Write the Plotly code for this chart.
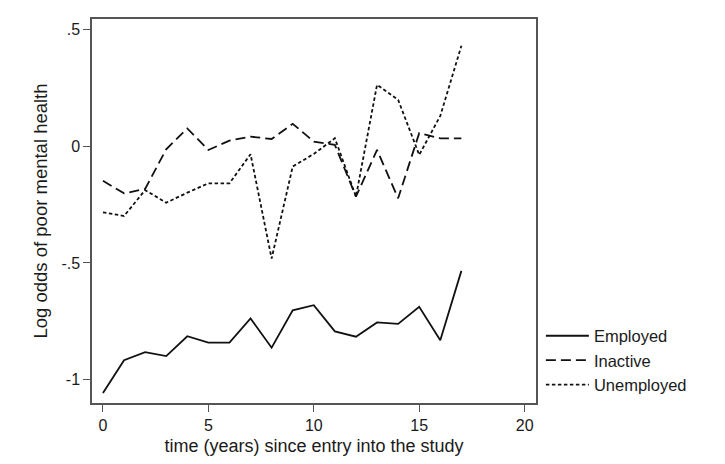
import plotly.graph_objects as go

time = list(range(18))
employed = [-1.057, -0.917, -0.882, -0.899, -0.814, -0.841, -0.841, -0.738, -0.863,
            -0.703, -0.681, -0.793, -0.816, -0.755, -0.761, -0.688, -0.831, -0.534]
inactive = [-0.148, -0.202, -0.183, -0.013, 0.076, -0.016, 0.024, 0.041, 0.031,
            0.096, 0.020, 0.006, -0.216, -0.016, -0.223, 0.056, 0.034, 0.034]
unemployed = [-0.283, -0.299, -0.188, -0.242, -0.199, -0.159, -0.159, -0.034, -0.481,
              -0.087, -0.033, 0.034, -0.216, 0.263, 0.199, -0.037, 0.130, 0.430]

series_names = ["Employed", "Inactive", "Unemployed"]
x_ticks = [0, 5, 10, 15, 20]
y_tickvals = [0.5, 0, -0.5, -1]
y_ticktext = [".5", "0", "-.5", "-1"]

FONT = "Liberation Sans, Arial, sans-serif"
INK = "#1a1a1a"
AXIS = "#555555"

fig = go.Figure()
styles = ["solid", "10px,5px", "3.5px,2.5px"]
for name, vals, dash in zip(series_names, [employed, inactive, unemployed], styles):
    fig.add_trace(go.Scatter(x=time, y=vals, mode="lines", name=name,
                             line=dict(color="#111111", width=1.8, dash=dash)))

fig.update_layout(
    width=725, height=464,
    margin=dict(l=92, r=189, t=19, b=61),
    paper_bgcolor="white", plot_bgcolor="white",
    font=dict(family=FONT, size=16, color=INK),
    showlegend=True,
    legend=dict(x=1.011, xanchor="left", y=0.22, yanchor="top",
                font=dict(size=16.5, color=INK), itemwidth=43,
                bgcolor="rgba(0,0,0,0)", tracegroupgap=0),
)
fig.update_xaxes(
    range=[-0.52, 20.54], tickvals=x_ticks, showgrid=False, zeroline=False,
    showline=True, linecolor=AXIS, linewidth=1.5, mirror=True,
    ticks="outside", ticklen=7, tickwidth=1.3, tickcolor=AXIS,
    tickfont=dict(size=16, color=INK),
    title=dict(text="time (years) since entry into the study",
               font=dict(size=18, color=INK), standoff=6),
)
fig.update_yaxes(
    range=[-1.10, 0.545], tickvals=y_tickvals, ticktext=y_ticktext,
    showgrid=False, zeroline=False,
    showline=True, linecolor=AXIS, linewidth=1.5, mirror=True,
    ticks="outside", ticklen=7, tickwidth=1.3, tickcolor=AXIS,
    tickfont=dict(size=16, color=INK),
    title=dict(text="Log odds of poor mental health",
               font=dict(size=18.5, color=INK), standoff=9),
)

fig.write_html("out.html")
